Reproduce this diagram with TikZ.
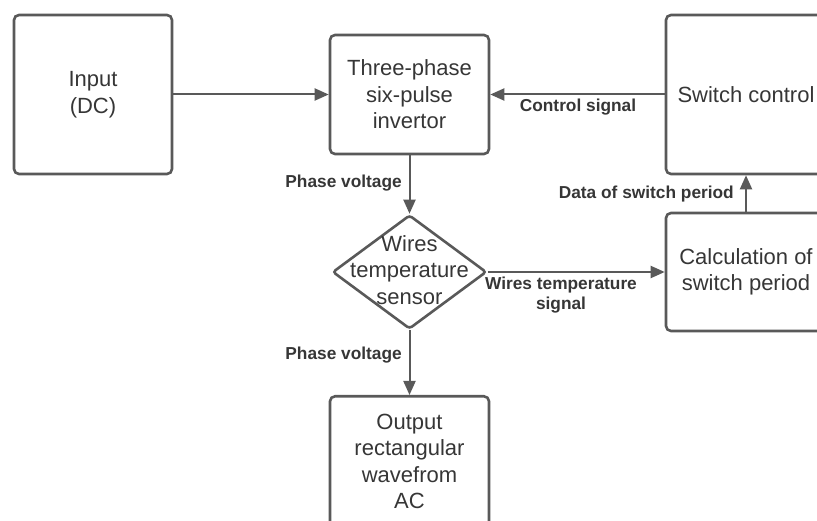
\documentclass[tikz,border=0pt]{standalone}
\usepackage{fontspec}
\setmainfont{Liberation Sans}
\usetikzlibrary{shapes.geometric,arrows.meta}
\definecolor{linegray}{HTML}{595959}
\definecolor{textgray}{HTML}{363636}

\begin{document}
\begin{tikzpicture}[x=1pt,y=-1pt,
  box/.style={draw=linegray, line width=2.6pt, rounded corners=5pt, text=textgray,
    align=center, inner sep=0pt, font=\fontsize{22}{26.5}\selectfont},
  boxtext/.style={text=textgray, align=center, inner sep=0pt, font=\fontsize{22}{26.5}\selectfont},
  lbl/.style={text=textgray, align=center, inner sep=0pt, font=\bfseries\fontsize{17.3}{20}\selectfont},
  link/.style={draw=linegray, line width=2pt, -{Triangle[length=14pt,width=12pt]}}]
\useasboundingbox (0,0) rectangle (817,521);
\clip (0,0) rectangle (817,521);

% blocks
\node [box, minimum width=158pt, minimum height=159pt] (input) at (93,94.5) {Input\\(DC)};
\node [box, minimum width=159pt, minimum height=119pt] (inv) at (409.5,94.5) {Three-phase\\six-pulse\\invertor};
\node [box, minimum width=160pt, minimum height=159pt] (sw) at (746,94.5) {Switch control};
\node [box, minimum width=160pt, minimum height=118pt] (calc) at (746,272) {Calculation of\\switch period};
\node [diamond, draw=linegray, line width=2.6pt, rounded corners=3pt, inner sep=0pt,
  minimum width=154pt, minimum height=114pt] (sensor) at (409.5,272) {};
\node [boxtext] (sensortxt) at (409.5,270) {Wires\\temperature\\sensor};
\node [box, minimum width=159pt, minimum height=130pt, anchor=north] (out) at (409.5,395) {Output\\rectangular\\wavefrom\\AC};

% connectors
\draw [link] (input.east) -- (inv.west);
\draw [link] (sw.west) -- (inv.east);
\draw [link] (calc.north) -- (sw.south);
\draw [link] (inv.south) -- (sensor.north);
\draw [link] (sensor.east) -- (calc.west);
\draw [link] (sensor.south) -- (out.north);

% labels
\node [lbl, anchor=east] (pvtop) at (402,183) {Phase voltage};
\node [lbl] (ctrl) at (578,107) {Control signal};
\node [lbl, anchor=east] (data) at (734,194) {Data of switch period};
\node [lbl] (wtsig) at (561,295) {Wires temperature\\signal};
\node [lbl, anchor=east] (pvbot) at (402,355) {Phase voltage};
\end{tikzpicture}
\end{document}
